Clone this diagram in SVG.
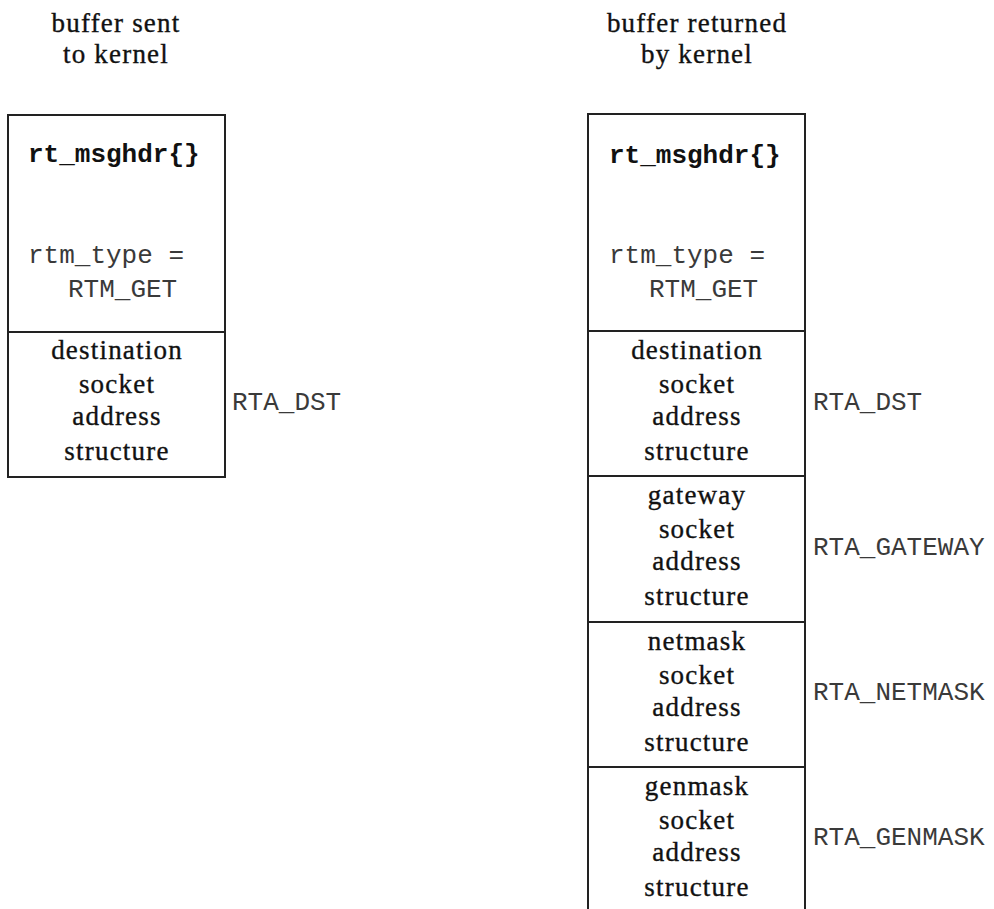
<svg xmlns="http://www.w3.org/2000/svg" width="994" height="909" viewBox="0 0 994 909">
<style>
.ser{font-family:"Liberation Serif","Times New Roman",serif;font-size:27px;letter-spacing:1.2px;fill:#111;stroke:#111;stroke-width:0.35;text-anchor:middle}
.mono{font-family:"Liberation Mono","Courier New",monospace;font-size:26px;fill:#3a3a3a}
.monob{font-family:"Liberation Mono","Courier New",monospace;font-size:26px;font-weight:bold;fill:#111}
.box{fill:none;stroke:#222;stroke-width:2}
</style>
<rect width="994" height="909" fill="#fff"/>
<g id="title-left">
<text class="ser" x="116" y="32">buffer sent</text>
<text class="ser" x="116" y="63">to kernel</text>
</g>
<g id="title-right">
<text class="ser" x="697" y="32">buffer returned</text>
<text class="ser" x="697" y="63">by kernel</text>
</g>
<g id="left-hdr">
<rect class="box" x="8" y="115" width="217" height="217"/>
<text class="monob" x="28" y="162">rt_msghdr{}</text>
<text class="mono" x="28" y="263">rtm_type =</text>
<text class="mono" x="68" y="297">RTM_GET</text>
</g>
<g id="left-dst">
<rect class="box" x="8" y="332" width="217" height="145"/>
<text class="ser" x="117" y="359">destination</text>
<text class="ser" x="117" y="393">socket</text>
<text class="ser" x="117" y="425">address</text>
<text class="ser" x="117" y="460">structure</text>
<text class="mono" x="232" y="410">RTA_DST</text>
</g>
<g id="right-hdr">
<rect class="box" x="588" y="114" width="217" height="217"/>
<text class="monob" x="609" y="163">rt_msghdr{}</text>
<text class="mono" x="609" y="263">rtm_type =</text>
<text class="mono" x="649" y="297">RTM_GET</text>
</g>
<g id="right-dst">
<rect class="box" x="588" y="331" width="217" height="145"/>
<text class="ser" x="697" y="359">destination</text>
<text class="ser" x="697" y="393">socket</text>
<text class="ser" x="697" y="425">address</text>
<text class="ser" x="697" y="460">structure</text>
<text class="mono" x="813" y="410">RTA_DST</text>
</g>
<g id="right-gateway">
<rect class="box" x="588" y="476" width="217" height="146"/>
<text class="ser" x="697" y="504">gateway</text>
<text class="ser" x="697" y="538">socket</text>
<text class="ser" x="697" y="570">address</text>
<text class="ser" x="697" y="605">structure</text>
<text class="mono" x="813" y="555">RTA_GATEWAY</text>
</g>
<g id="right-netmask">
<rect class="box" x="588" y="622" width="217" height="145"/>
<text class="ser" x="697" y="650">netmask</text>
<text class="ser" x="697" y="684">socket</text>
<text class="ser" x="697" y="716">address</text>
<text class="ser" x="697" y="751">structure</text>
<text class="mono" x="813" y="700">RTA_NETMASK</text>
</g>
<g id="right-genmask">
<path class="box" d="M588,912 V767 H805 V912"/>
<text class="ser" x="697" y="795">genmask</text>
<text class="ser" x="697" y="829">socket</text>
<text class="ser" x="697" y="861">address</text>
<text class="ser" x="697" y="896">structure</text>
<text class="mono" x="813" y="845">RTA_GENMASK</text>
</g>
<g id="connectors"></g>
</svg>
